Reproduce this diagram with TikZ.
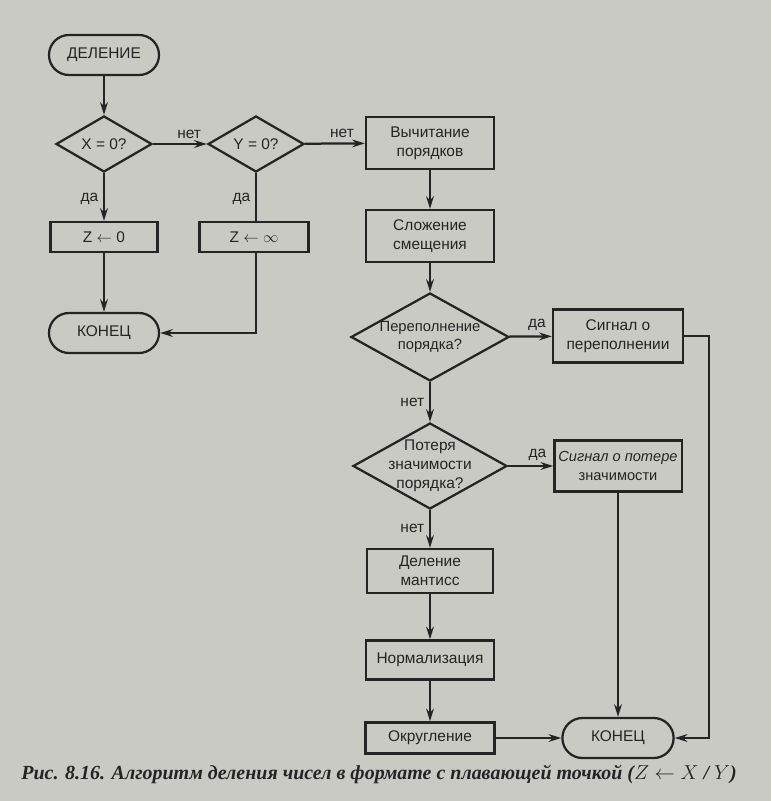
\documentclass[tikz,border=0pt]{standalone}
\usepackage{fontspec}
\setmainfont{Liberation Sans}
\newfontfamily\capfont{Liberation Serif}
\usepackage{tikz}
\usetikzlibrary{arrows.meta,shapes.geometric,positioning,calc}

\definecolor{paper}{RGB}{202,202,197}
\definecolor{ink}{RGB}{36,36,36}

\begin{document}
\begin{tikzpicture}[x=0.025cm,y=-0.025cm,
    color=ink, line width=1.6pt,
    font=\fontsize{11}{13.5}\selectfont,
    term/.style={draw, rectangle, rounded corners=0.5cm, minimum width=2.75cm, minimum height=1cm},
    proc/.style={draw, rectangle, align=center, minimum width=3.2cm, minimum height=1.3cm},
    cond/.style={draw, diamond, align=center, shape aspect=1.8, inner sep=-4pt},
    conn/.style={-{Stealth[length=9pt,width=5.5pt]}}]
        % фон
        \fill[paper] (0,0) rectangle (771,801);
        % левая часть
        \node[term] (start) at (104,55) {ДЕЛЕНИЕ};
        \node[cond, minimum width=2.4cm, minimum height=1.4cm] (xz) at (104,144) {X = 0?};
        \node[cond, minimum width=2.4cm, minimum height=1.4cm] (yz) at (256,144) {Y = 0?};
        \node[proc, minimum width=2.68cm, minimum height=0.75cm] (zzero) at (104,237) {Z $\leftarrow$ 0};
        \node[proc, minimum width=2.72cm, minimum height=0.75cm] (zinf) at (254,237) {Z $\leftarrow$ $\infty$};
        \node[term] (end1) at (104,333) {КОНЕЦ};
        % основная ветвь
        \node[proc] (sub) at (430,143) {Вычитание\\порядков};
        \node[proc] (add) at (430,236) {Сложение\\смещения};
        \node[cond, minimum width=3.95cm, minimum height=2.2cm, font=\fontsize{10.5}{13}\selectfont] (ovf) at (430,337)
          {Переполнение\\порядка?};
        \node[proc, minimum width=3.25cm, minimum height=1.32cm] (sigovf) at (618,336) {Сигнал о\\переполнении};
        \node[cond, minimum width=3.85cm, minimum height=2.15cm] (unf) at (430,466) {Потеря\\значимости\\порядка?};
        \node[proc, minimum width=3.18cm, minimum height=1.28cm, inner xsep=1pt,
          font=\fontsize{10.4}{13.5}\selectfont] (sigunf) at (618,466)
          {{\itshape Сигнал о потере}\\значимости};
        \node[proc, minimum width=3.15cm, minimum height=1.1cm] (divm) at (430,571) {Деление\\мантисс};
        \node[proc, minimum height=0.98cm] (norm) at (430,660) {Нормализация};
        \node[proc, minimum width=3.22cm, minimum height=0.78cm] (rnd) at (430,738) {Округление};
        \node[term, minimum width=2.78cm] (end2) at (618,738) {КОНЕЦ};
        % связи
        \draw[conn] (start) -- (xz);
        \draw[conn] (xz) -- node[above, pos=0.67] {нет} (yz);
        \draw[conn] (yz) -- node[above, pos=0.62] {нет} (sub);
        \draw[conn] (xz) -- node[left, pos=0.54] {да} (zzero);
        \draw (yz.south) -- node[left, pos=0.54] {да} (yz.south |- zinf.north);
        \draw[conn] (zzero) -- (end1);
        \draw[conn] (yz.south |- zinf.south) |- (end1.east);
        \draw[conn] (sub) -- (add);
        \draw[conn] (add) -- (ovf);
        \draw[conn] (ovf) -- node[above, pos=0.65] {да} (sigovf);
        \draw[conn] (ovf) -- node[left, pos=0.52] {нет} (unf);
        \draw[conn] (unf) -- node[above, pos=0.65] {да} (sigunf);
        \draw[conn] (unf) -- node[left, pos=0.48] {нет} (divm);
        \draw[conn] (divm) -- (norm);
        \draw[conn] (norm) -- (rnd);
        \draw[conn] (rnd) -- (end2);
        \draw[conn] (sigunf) -- (end2);
        \draw[conn] (sigovf.east) -- ++(25,0) |- (end2.east);
        % подпись
        \node[font=\capfont\bfseries\itshape\fontsize{14.2}{16}\selectfont] (cap) at (379,774)
          {Рис. 8.16. Алгоритм деления чисел в формате с плавающей точкой ($Z \leftarrow X$ / $Y$)};
\end{tikzpicture}
\end{document}
